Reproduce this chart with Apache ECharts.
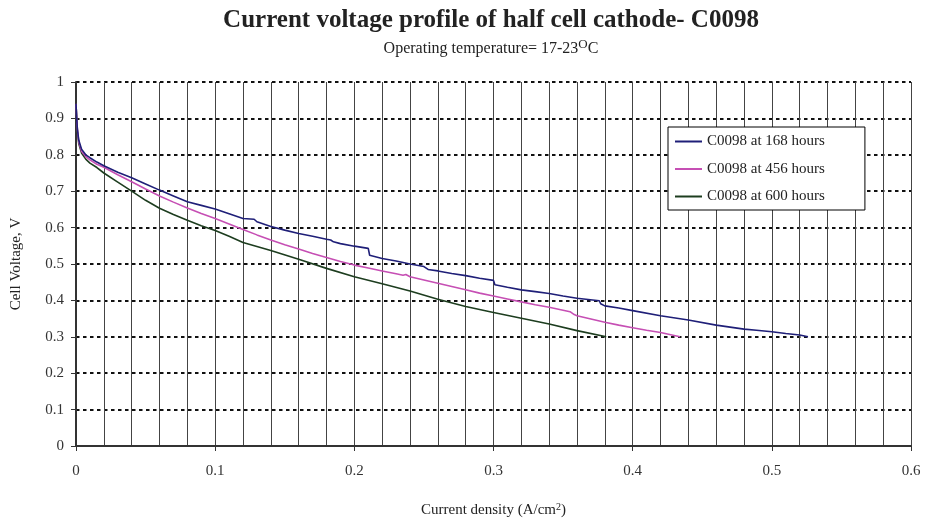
<!DOCTYPE html>
<html>
<head>
<meta charset="utf-8">
<script src="https://cdn.jsdelivr.net/npm/echarts@6/dist/echarts.min.js"></script>
<style>
html,body{margin:0;padding:0;background:#fff;}
#chart{width:925px;height:519px;}
</style>
</head>
<body>
<div id="chart"></div>
<script>
// Data
var seriesNames = ['C0098 at 168 hours', 'C0098 at 456 hours', 'C0098 at 600 hours'];

var x168 = [0, 0.0005, 0.001, 0.002, 0.004, 0.007, 0.01, 0.015, 0.02, 0.03, 0.04, 0.05, 0.06, 0.07, 0.08, 0.09, 0.10, 0.11, 0.12, 0.128, 0.13, 0.14, 0.15, 0.16, 0.17, 0.18, 0.183, 0.185, 0.19, 0.20, 0.21, 0.211, 0.22, 0.23, 0.24, 0.25, 0.253, 0.26, 0.27, 0.28, 0.29, 0.30, 0.301, 0.31, 0.32, 0.33, 0.34, 0.35, 0.36, 0.376, 0.377, 0.38, 0.39, 0.40, 0.42, 0.44, 0.46, 0.48, 0.489, 0.49, 0.50, 0.51, 0.52, 0.526];
var y168 = [0.94, 0.90, 0.87, 0.84, 0.815, 0.80, 0.792, 0.78, 0.77, 0.752, 0.737, 0.72, 0.703, 0.687, 0.671, 0.661, 0.651, 0.638, 0.625, 0.623, 0.616, 0.603, 0.593, 0.584, 0.576, 0.568, 0.566, 0.561, 0.556, 0.549, 0.543, 0.524, 0.515, 0.508, 0.50, 0.493, 0.485, 0.481, 0.474, 0.468, 0.461, 0.455, 0.443, 0.436, 0.429, 0.424, 0.419, 0.412, 0.406, 0.399, 0.391, 0.385, 0.379, 0.372, 0.358, 0.346, 0.332, 0.321, 0.318, 0.322, 0.314, 0.309, 0.305, 0.300];

var x456 = [0, 0.0005, 0.001, 0.002, 0.004, 0.007, 0.01, 0.015, 0.02, 0.03, 0.04, 0.05, 0.06, 0.07, 0.08, 0.09, 0.10, 0.11, 0.12, 0.13, 0.14, 0.15, 0.16, 0.17, 0.18, 0.19, 0.20, 0.21, 0.22, 0.23, 0.235, 0.237, 0.24, 0.25, 0.26, 0.27, 0.28, 0.29, 0.30, 0.31, 0.32, 0.33, 0.34, 0.355, 0.358, 0.36, 0.37, 0.38, 0.39, 0.40, 0.41, 0.42, 0.434];
var y456 = [0.94, 0.90, 0.87, 0.835, 0.81, 0.795, 0.786, 0.774, 0.766, 0.745, 0.726, 0.706, 0.687, 0.670, 0.654, 0.639, 0.625, 0.610, 0.595, 0.580, 0.566, 0.553, 0.541, 0.529, 0.518, 0.507, 0.497, 0.489, 0.481, 0.473, 0.469, 0.471, 0.465, 0.456, 0.447, 0.438, 0.429, 0.420, 0.412, 0.404, 0.396, 0.388, 0.381, 0.369, 0.361, 0.358, 0.349, 0.340, 0.332, 0.325, 0.318, 0.312, 0.300];

var x600 = [0, 0.0005, 0.001, 0.002, 0.004, 0.007, 0.01, 0.015, 0.02, 0.03, 0.04, 0.05, 0.06, 0.07, 0.08, 0.09, 0.10, 0.11, 0.12, 0.14, 0.16, 0.18, 0.20, 0.22, 0.24, 0.26, 0.28, 0.30, 0.32, 0.34, 0.36, 0.381];
var y600 = [0.94, 0.90, 0.865, 0.83, 0.805, 0.788, 0.777, 0.765, 0.75, 0.725, 0.70, 0.675, 0.653, 0.636, 0.620, 0.605, 0.592, 0.576, 0.559, 0.537, 0.513, 0.488, 0.465, 0.446, 0.426, 0.403, 0.383, 0.367, 0.351, 0.335, 0.317, 0.300];

var xTicks = [0, 0.1, 0.2, 0.3, 0.4, 0.5, 0.6];
var yTicks = [0, 0.1, 0.2, 0.3, 0.4, 0.5, 0.6, 0.7, 0.8, 0.9, 1];

var colors = ['#1f1f78', '#c64fb4', '#1d3d1f'];

function pairs(xs, ys) {
  var out = [];
  for (var i = 0; i < xs.length; i++) out.push([xs[i], ys[i]]);
  return out;
}

var font = '"Liberation Serif", "DejaVu Serif", serif';
var chart = echarts.init(document.getElementById('chart'));
chart.setOption({
  backgroundColor: '#ffffff',
  animation: false,
  title: {
    text: 'Current voltage profile of half cell cathode- C0098',
    subtext: 'Operating temperature= 17-23{sup|O}C',
    left: 486,
    textAlign: 'center',
    top: 3,
    itemGap: 5,
    textStyle: { fontFamily: font, fontSize: 25, fontWeight: 'bold', color: '#222' },
    subtextStyle: {
      fontFamily: font, fontSize: 16, color: '#222',
      rich: { sup: { fontFamily: font, fontSize: 13, color: '#222', verticalAlign: 'top', padding: [0, 0, 8, 0] } }
    }
  },
  legend: {
    data: seriesNames,
    orient: 'vertical',
    left: 668,
    top: 127,
    backgroundColor: '#fff',
    borderColor: '#000',
    borderWidth: 1,
    borderRadius: 0,
    padding: [7, 40, 6, 7],
    itemGap: 12.5,
    itemWidth: 27,
    itemHeight: 2,
    icon: 'rect',
    textStyle: { fontFamily: font, fontSize: 15, color: '#222' }
  },
  grid: { left: 76, right: 14, top: 82, bottom: 73, containLabel: false, outerBoundsMode: 'none' },
  xAxis: {
    type: 'value',
    min: xTicks[0],
    max: xTicks[xTicks.length - 1],
    interval: 0.1,
    name: 'Current density (A/cm{sup|2})',
    nameLocation: 'middle',
    nameGap: 56,
    nameTextStyle: {
      fontFamily: font, fontSize: 15, color: '#222',
      rich: { sup: { fontFamily: font, fontSize: 10, color: '#222', verticalAlign: 'top', padding: [0, 0, 6, 0] } }
    },
    axisLine: { show: true, onZero: false, lineStyle: { color: '#333', width: 2 } },
    axisTick: { show: true, inside: false, length: 5, lineStyle: { color: '#333', width: 1 } },
    axisLabel: { fontFamily: font, fontSize: 15, color: '#333', margin: 18,
      formatter: function (v) { return String(Math.round(v * 10) / 10); } },
    splitLine: { show: true, lineStyle: { color: '#444', width: 1, type: 'solid' } },
    minorTick: { show: false, splitNumber: 5 },
    minorSplitLine: { show: true, lineStyle: { color: '#444', width: 1, type: 'solid' } }
  },
  yAxis: {
    type: 'value',
    min: yTicks[0],
    max: yTicks[yTicks.length - 1],
    interval: 0.1,
    name: 'Cell Voltage, V',
    nameLocation: 'middle',
    nameRotate: 90,
    nameGap: 52,
    nameTextStyle: { fontFamily: font, fontSize: 15, color: '#222' },
    axisLine: { show: true, onZero: false, lineStyle: { color: '#333', width: 2 } },
    axisTick: { show: true, inside: false, length: 5, lineStyle: { color: '#333', width: 1 } },
    axisLabel: { fontFamily: font, fontSize: 15, color: '#333', margin: 12,
      formatter: function (v) { return String(Math.round(v * 10) / 10); } },
    splitLine: { show: true, lineStyle: { color: '#111', width: 2.2, type: [3.5, 3.5] } }
  },
  series: [
    { name: seriesNames[0], type: 'line', data: pairs(x168, y168), showSymbol: false, symbol: 'none',
      lineStyle: { color: colors[0], width: 1.6 }, itemStyle: { color: colors[0] }, z: 5 },
    { name: seriesNames[1], type: 'line', data: pairs(x456, y456), showSymbol: false, symbol: 'none',
      lineStyle: { color: colors[1], width: 1.6 }, itemStyle: { color: colors[1] }, z: 4 },
    { name: seriesNames[2], type: 'line', data: pairs(x600, y600), showSymbol: false, symbol: 'none',
      lineStyle: { color: colors[2], width: 1.6 }, itemStyle: { color: colors[2] }, z: 3 }
  ]
});
</script>
</body>
</html>
